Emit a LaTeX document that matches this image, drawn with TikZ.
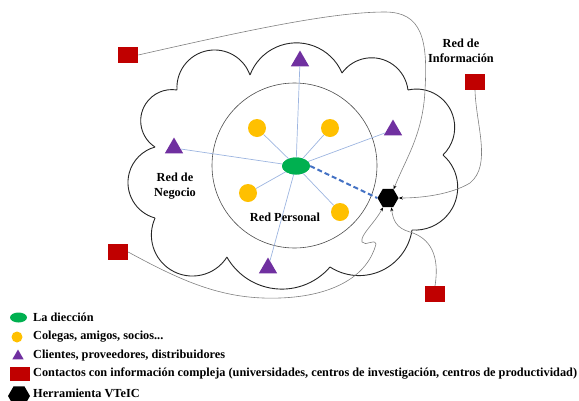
\documentclass[tikz,border=0pt]{standalone}
\usepackage{fontspec}
\setmainfont{Liberation Serif}
\usetikzlibrary{shapes.geometric,arrows.meta}
\definecolor{cgreen}{HTML}{00B050}
\definecolor{cyellow}{HTML}{FFC000}
\definecolor{cpurple}{HTML}{7030A0}
\definecolor{cred}{HTML}{C00000}
\definecolor{clblue}{HTML}{9DB5E0}
\definecolor{cdblue}{HTML}{4472C4}
\definecolor{cgrey}{HTML}{808080}
\begin{document}
\begin{tikzpicture}[x=1pt,y=-1pt,
  font=\fontsize{12.3}{15}\selectfont\bfseries,
  leader/.style={draw=clblue,line width=0.7pt},
  dir/.style={ellipse,fill=cgreen,minimum width=28pt,minimum height=17pt,inner sep=0pt},
  coll/.style={circle,fill=cyellow,minimum size=18pt,inner sep=0pt},
  cli/.style={regular polygon,regular polygon sides=3,fill=cpurple,minimum size=21pt,inner sep=0pt},
  cont/.style={rectangle,fill=cred,minimum width=20pt,minimum height=16pt,inner sep=0pt},
  tool/.style={regular polygon,regular polygon sides=6,fill=black,minimum size=21pt,inner sep=0pt},
  conn/.style={draw=cgrey,line width=0.6pt,-{Stealth[length=4pt,width=3pt,black]}},
  legtext/.style={anchor=west,inner sep=0pt},
  area/.style={align=center,inner sep=0pt}]
\useasboundingbox (0,0) rectangle (579,400);
% cloud (ten puffs, circular arcs)
\draw[line width=0.9pt,black!85]
  (177,90) arc[start angle=183.7,end angle=19.5,radius=37.6pt]
  (250,75) arc[start angle=159.4,end angle=23.0,radius=49.6pt]
  (342,73) arc[start angle=144.3,end angle=6.8,radius=36.55pt]
  (408,90) arc[start angle=102.7,end angle=-46.05,radius=38.3pt]
  (443,155) arc[start angle=49.0,end angle=-93.9,radius=42.8pt]
  (412,230) arc[start angle=-8.5,end angle=-122.95,radius=53.5pt]
  (330,267) arc[start angle=-40.6,end angle=-150.4,radius=63.3pt]
  (227,257) arc[start angle=-32.4,end angle=-204.5,radius=41.0pt]
  (155,218) arc[start angle=-105.4,end angle=-254.6,radius=36.8pt]
  (155,147) arc[start angle=-122.8,end angle=-279.4,radius=31.2pt];
% inner circle
\draw[line width=0.6pt,black!70] (294.5,165.5) circle[radius=82.5];
% nodes
\node[dir] (d) at (296,166) {};
\node[coll] (y1) at (257,128) {};
\node[coll] (y2) at (330,128) {};
\node[coll] (y3) at (248,193) {};
\node[coll] (y4) at (340,212) {};
\node[cli] (t1) at (300,61) {};
\node[cli] (t2) at (393,130) {};
\node[cli] (t3) at (174,148) {};
\node[cli] (t4) at (268,268) {};
\node[tool] (h) at (388,198) {};
\node[cont] (sTL) at (128,55) {};
\node[cont] (sR) at (475,82) {};
\node[cont] (sBL) at (118,252) {};
\node[cont] (sBR) at (435,294) {};
% leaders
\foreach \n in {y1,y2,y3,y4,t1,t2,t3,t4} \draw[leader] (d.center) -- (\n);
\node[dir] at (d) {};
\draw[cdblue,line width=2pt,dash pattern=on 5pt off 3pt] (d.east) -- (h.west);
% connectors
\draw[conn] (sTL.east) .. controls (240,32) and (330,12) .. (385,12)
  .. controls (422,12) and (428,40) .. (425,90)
  .. controls (423,135) and (405,160) .. (h.57);
\draw[conn] (sR.south) .. controls (476,125) and (492,165) .. (470,183)
  .. controls (450,195) and (420,198) .. (h.east);
\draw[conn] (sBR.north) .. controls (440,255) and (430,238) .. (410,232)
  .. controls (396,228) and (393,220) .. (h.-70);
\draw[conn] (sBL.east) .. controls (185,283) and (225,300) .. (280,298)
  .. controls (335,296) and (368,275) .. (376,244)
  .. controls (374,238) and (366,247) .. (362,242)
  .. controls (360,235) and (374,224) .. (h.-118);
% area labels
\node[area] at (461,51) {Red de\\Información};
\node[area] at (175,186) {Red de\\Negocio};
\node[area] at (285,217) {Red Personal};
% legend
\node[dir,minimum width=17pt,minimum height=10pt] (ld) at (18.5,317.5) {};
\node[coll,minimum size=11pt] (ly) at (17,337) {};
\node[cli,minimum size=13pt] (lt) at (18,356) {};
\node[cont,minimum width=20pt,minimum height=14pt] (ls) at (20,374) {};
\node[tool,minimum size=22pt] (lh) at (19,396) {};
\node[legtext] at (33,317) {La diección};
\node[legtext] at (33,337) {Colegas, amigos, socios...};
\node[legtext] at (33,355.5) {Clientes, proveedores, distribuidores};
\node[legtext] at (33,374) {Contactos con información compleja (universidades, centros de investigación, centros de productividad)};
\node[legtext] at (33,393.5) {Herramienta VTeIC};
\end{tikzpicture}
\end{document}
